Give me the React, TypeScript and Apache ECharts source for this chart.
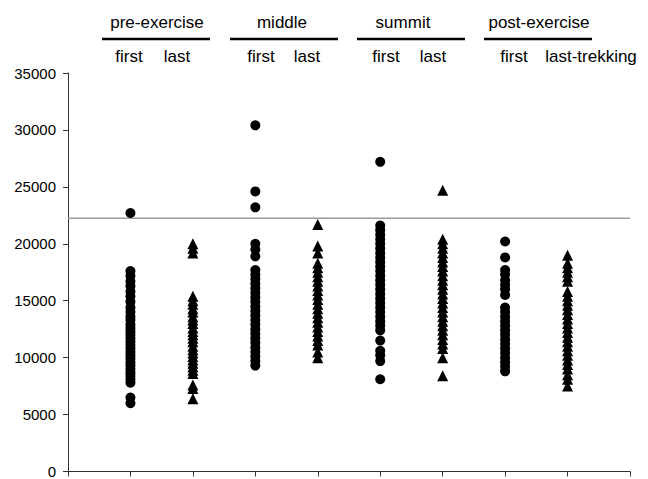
import React, { useEffect, useRef } from "react";
import * as echarts from "echarts";

const groupLabels = ["pre-exercise", "middle", "summit", "post-exercise"];
const subLabels = ["first", "last", "first", "last", "first", "last", "first", "last-trekking"];
const yTicks = [0, 5000, 10000, 15000, 20000, 25000, 30000, 35000];
const referenceLine = 22250;

const preFirst = [22700, 17600, 17200, 16700, 16300, 15800, 15400, 14900, 14400, 14000, 13600, 13300, 12900, 12600, 12300, 12000, 11700, 11400, 11100, 10800, 10500, 10200, 9900, 9600, 9300, 9000, 8700, 8400, 8100, 7800, 6500, 6000];
const preLast = [20000, 19600, 19200, 15400, 15000, 14700, 14300, 14000, 13600, 13300, 13000, 12600, 12300, 12000, 11700, 11400, 11000, 10700, 10400, 10100, 9800, 9500, 9200, 8900, 8600, 7600, 7300, 6400];
const middleFirst = [30400, 24600, 23200, 20000, 19500, 18900, 17700, 17300, 16900, 16500, 16100, 15700, 15300, 14900, 14500, 14100, 13700, 13300, 12900, 12500, 12100, 11700, 11300, 10900, 10500, 10100, 9700, 9300];
const middleLast = [21700, 19800, 19200, 18300, 17900, 17500, 17100, 16700, 16300, 15900, 15500, 15100, 14700, 14300, 13900, 13500, 13100, 12700, 12300, 11900, 11500, 11100, 10500, 10000];
const summitFirst = [27200, 21600, 21200, 20800, 20400, 20000, 19600, 19200, 18800, 18400, 18000, 17600, 17200, 16800, 16400, 16000, 15600, 15200, 14800, 14400, 14000, 13600, 13200, 12800, 12400, 11500, 10600, 10200, 9700, 8100];
const summitLast = [24700, 20400, 20000, 19600, 19200, 18800, 18400, 18000, 17600, 17200, 16800, 16400, 16000, 15600, 15200, 14800, 14400, 14000, 13600, 13200, 12800, 12400, 12000, 11600, 11200, 10800, 10000, 8400];
const postFirst = [20200, 18800, 17700, 17300, 16800, 16400, 16000, 15500, 14400, 14000, 13600, 13200, 12800, 12400, 12000, 11600, 11200, 10800, 10400, 10000, 9600, 9200, 8800];
const postLast = [19000, 18300, 17900, 17500, 17100, 16700, 15800, 15400, 15000, 14600, 14200, 13800, 13400, 13000, 12600, 12200, 11800, 11400, 11000, 10600, 10200, 9800, 9400, 9000, 8500, 8100, 7500];

const columns = [preFirst, preLast, middleFirst, middleLast, summitFirst, summitLast, postFirst, postLast];

export default function App() {
  const ref = useRef<HTMLDivElement>(null);
  useEffect(() => {
    if (!ref.current) return;
    const chart = echarts.init(ref.current, null, { renderer: "svg" });
    const font = "'Liberation Sans', Arial, sans-serif";
    const series: any[] = columns.map((vals, i) => ({
      type: "scatter",
      symbol: i % 2 === 0 ? "circle" : "triangle",
      symbolSize: i % 2 === 0 ? 10 : 11,
      itemStyle: { color: "#000", opacity: 1 },
      data: vals.map((v) => [i + 1, v]),
      z: 3,
    }));
    series.push({
      type: "line",
      data: [[0, referenceLine], [9, referenceLine]],
      symbol: "none",
      lineStyle: { color: "#9a9a9a", width: 1.5 },
      z: 2,
    });
    const headerCenters = [157, 282, 403, 539];
    const lineCenters = [156, 284, 411, 538];
    const lineHalf = 54;
    const subX = [129, 177, 261, 307, 386, 433, 514, 591];
    const graphic: any[] = [];
    groupLabels.forEach((t, i) => {
      graphic.push({
        type: "text",
        x: headerCenters[i],
        y: 22,
        style: { text: t, font: `17px ${font}`, fill: "#000", align: "center", verticalAlign: "middle" },
      });
      graphic.push({
        type: "line",
        shape: { x1: lineCenters[i] - lineHalf, y1: 39, x2: lineCenters[i] + lineHalf, y2: 39 },
        style: { stroke: "#000", lineWidth: 2.5 },
      });
    });
    subLabels.forEach((t, i) => {
      graphic.push({
        type: "text",
        x: subX[i],
        y: 56,
        style: { text: t, font: `17px ${font}`, fill: "#000", align: "center", verticalAlign: "middle" },
      });
    });
    chart.setOption({
      animation: false,
      backgroundColor: "#fff",
      grid: { left: 68, right: 18, top: 73, bottom: 6 },
      xAxis: {
        type: "value",
        min: 0,
        max: 9,
        interval: 1,
        axisLine: { show: true, lineStyle: { color: "#333", width: 1 } },
        axisTick: { show: true, length: 5, lineStyle: { color: "#333" } },
        axisLabel: { show: false },
        splitLine: { show: false },
      },
      yAxis: {
        type: "value",
        min: yTicks[0],
        max: yTicks[yTicks.length - 1],
        interval: 5000,
        axisLine: { show: true, lineStyle: { color: "#333", width: 1 } },
        axisTick: { show: true, length: 5, lineStyle: { color: "#333" } },
        axisLabel: { color: "#000", fontSize: 15, fontFamily: font, margin: 12, formatter: (v: number) => String(v) },
        splitLine: { show: false },
      },
      graphic,
      series,
    });
    return () => chart.dispose();
  }, []);
  return <div ref={ref} style={{ position: "fixed", left: 0, top: 0, width: 648, height: 479 }} />;
}
